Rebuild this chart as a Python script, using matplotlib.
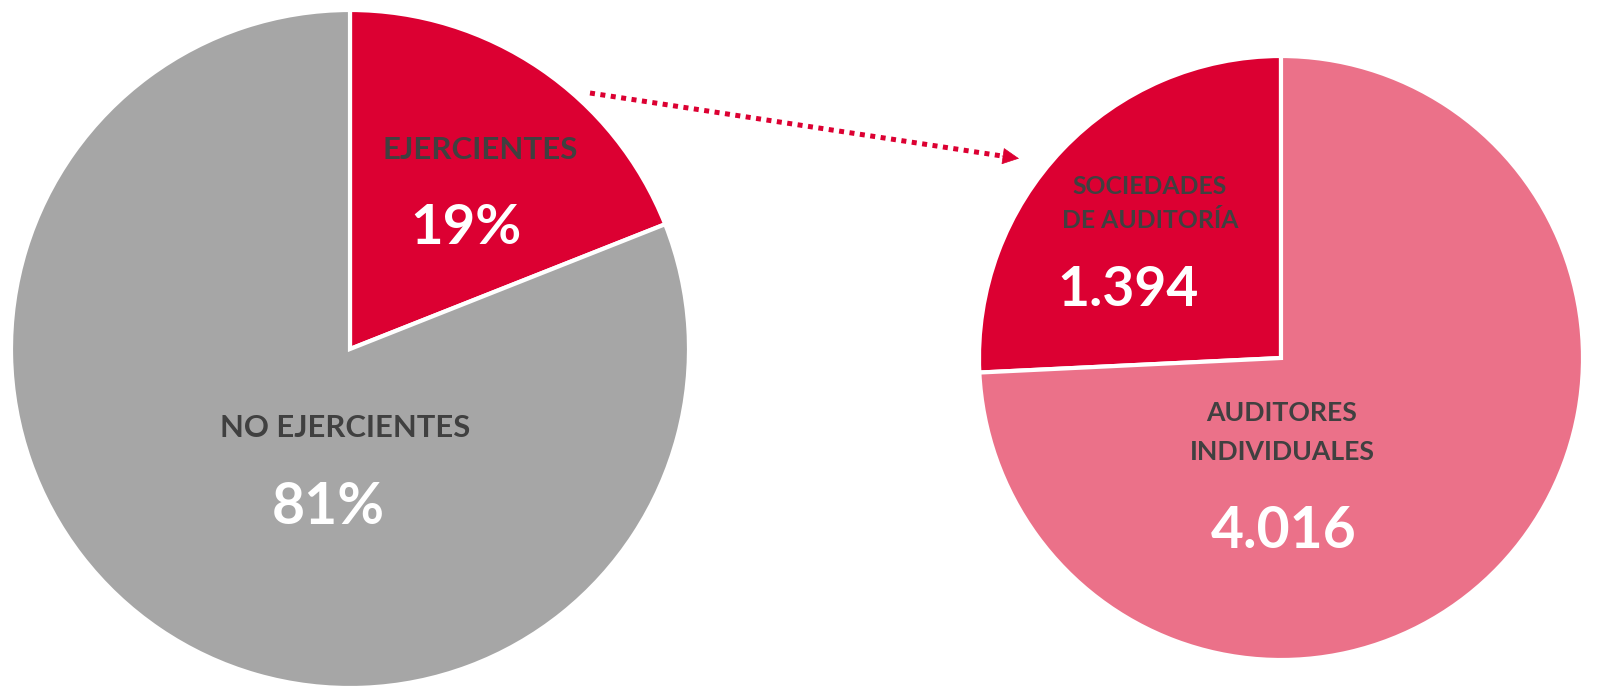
import matplotlib.pyplot as plt

plt.rcParams['font.family'] = ['Lato', 'DejaVu Sans']

# left pie: share of auditors
left_labels = ['EJERCIENTES', 'NO EJERCIENTES']
left_values = [19, 81]
left_text = ['19%', '81%']

# right pie: breakdown of the "ejercientes"
right_labels = [['SOCIEDADES', 'DE AUDITORÍA'], ['AUDITORES', 'INDIVIDUALES']]
right_values = [1394, 4016]
right_text = ['1.394', '4.016']

RED = '#DC0032'
GREY = '#A6A6A6'
PINK = '#EB7189'
DARK = '#404040'

W, H = 1600, 697
fig = plt.figure(figsize=(16, 6.97), dpi=100)
ax = fig.add_axes([0, 0, 1, 1])

wp = dict(edgecolor='white', linewidth=3)
ax.pie(left_values, colors=[RED, GREY], startangle=90, counterclock=False,
       center=(350, H - 349), radius=339, wedgeprops=wp)
ax.pie(right_values, colors=[RED, PINK], startangle=90, counterclock=True,
       center=(1281, H - 358), radius=302, wedgeprops=wp)

ax.set_xlim(0, W)
ax.set_ylim(0, H)
ax.set_aspect('equal')
ax.axis('off')

# labels (pixel positions measured from top)
def put(x, y, s, size, color):
    ax.text(x, H - y, s, ha='center', va='center', fontsize=size,
            fontweight='bold', color=color)

put(480, 150, left_labels[0], 22.5, DARK)
put(466, 228, left_text[0], 40.5, 'white')
put(345, 428, left_labels[1], 22.3, DARK)
put(328, 507, left_text[1], 41, 'white')

put(1150, 187, right_labels[0][0], 17.8, DARK)
put(1150, 220, right_labels[0][1], 17.8, DARK)
put(1128, 290, right_text[0], 39.8, 'white')
put(1282, 413, right_labels[1][0], 19.2, DARK)
put(1282, 452, right_labels[1][1], 19.2, DARK)
put(1284, 532, right_text[1], 41, 'white')

# dotted connector with arrow head
x0, y0 = 590, H - 93
x1, y1 = 1002, H - 156
ax.plot([x0, x1], [y0, y1], color=RED, lw=3.6, dashes=(1, 1.1),
        solid_capstyle='butt', dash_capstyle='butt')
ax.annotate('', xy=(1019, H - 158.5), xytext=(x1, y1),
            arrowprops=dict(arrowstyle='-|>,head_length=1.1,head_width=0.55',
                            color=RED, lw=0.5, shrinkA=0, shrinkB=0))

fig.savefig('out.png', dpi=100)
